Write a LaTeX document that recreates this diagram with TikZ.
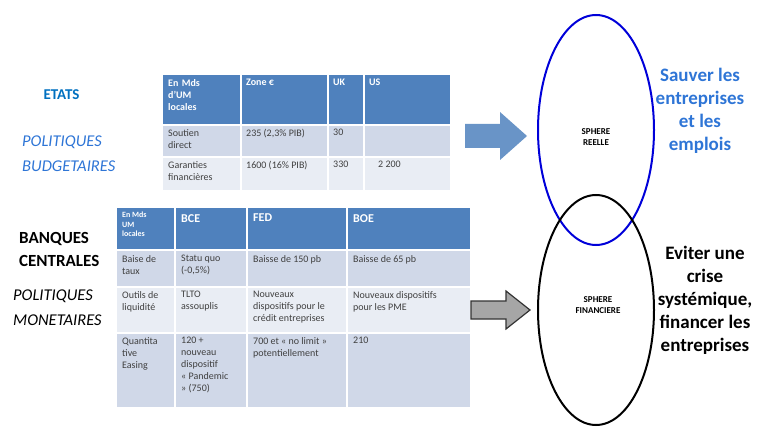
\documentclass[tikz,border=0pt]{standalone}
\usepackage{fontspec}
\setmainfont{Carlito}
\usetikzlibrary{shapes.geometric}
\definecolor{hdr}{HTML}{4F81BD}
\definecolor{rA}{HTML}{D0D8E8}
\definecolor{rB}{HTML}{E9EDF4}
\definecolor{bleu}{HTML}{0070C0}
\definecolor{lbleu}{HTML}{2E75D6}
\begin{document}
\begin{tikzpicture}[x=1pt,y=-1pt,
 cell/.style={anchor=north west,inner sep=0pt,align=left,font=\fontsize{10}{12}\selectfont,text=black!75},
 hcell/.style={cell,text=white,font=\fontsize{10}{12}\selectfont\bfseries},
 grid/.style={draw=white,line width=1.5pt},
 big/.style={align=center,font=\fontsize{19}{23}\selectfont\bfseries}]
\useasboundingbox (0,0) rectangle (760,430);
% table 1
\fill[hdr] (163,75) rectangle (450,125);
\fill[rA] (163,125) rectangle (450,157);
\fill[rB] (163,157) rectangle (450,190);
\foreach \x in {241,328,364} \draw[grid] (\x,75) -- (\x,190);
\foreach \y in {125,157} \draw[grid] (163,\y) -- (450,\y);
\node[hcell,text width=70] (t11) at (168,79) {En Mds\\d'UM\\locales};
\node[hcell] (t12) at (246,79) {Zone €};
\node[hcell] (t13) at (333,79) {UK};
\node[hcell] (t14) at (369,79) {US};
\node[cell] (t21) at (168,129) {Soutien\\direct};
\node[cell] (t22) at (246,129) {235 (2,3\% PIB)};
\node[cell] (t23) at (333,129) {30};
\node[cell] (t31) at (168,161) {Garanties\\financières};
\node[cell] (t32) at (246,161) {1600 (16\% PIB)};
\node[cell] (t33) at (333,161) {330};
\node[cell] (t34) at (378,161) {2 200};
% table 2
\fill[hdr] (117,208) rectangle (470,250);
\fill[rA] (117,250) rectangle (470,287);
\fill[rB] (117,287) rectangle (470,333);
\fill[rA] (117,333) rectangle (470,407);
\foreach \x in {175,247,347} \draw[grid] (\x,208) -- (\x,407);
\foreach \y in {250,287,333} \draw[grid] (117,\y) -- (470,\y);
\node[hcell,font=\fontsize{8}{9.5}\selectfont\bfseries] (u11) at (122,212) {En Mds\\UM\\locales};
\node[hcell,font=\fontsize{12}{14}\selectfont\bfseries] (u12) at (181,214) {BCE};
\node[hcell,font=\fontsize{12}{14}\selectfont\bfseries] (u13) at (253,214) {FED};
\node[hcell,font=\fontsize{12}{14}\selectfont\bfseries] (u14) at (353,214) {BOE};
\node[cell] (u21) at (122,255) {Baise de\\taux};
\node[cell] (u22) at (181,255) {Statu quo\\(-0,5\%)};
\node[cell] (u23) at (253,255) {Baisse de 150 pb};
\node[cell] (u24) at (353,255) {Baisse de 65 pb};
\node[cell] (u31) at (122,291) {Outils de\\liquidité};
\node[cell] (u32) at (181,291) {TLTO\\assouplis};
\node[cell] (u33) at (253,291) {Nouveaux\\dispositifs pour le\\crédit entreprises};
\node[cell] (u34) at (353,291) {Nouveaux dispositifs\\pour les PME};
\node[cell] (u41) at (122,337) {Quantita\\tive\\Easing};
\node[cell] (u42) at (181,337) {120 +\\nouveau\\dispositif\\« Pandemic\\» (750)};
\node[cell] (u43) at (253,337) {700 et « no limit »\\potentiellement};
\node[cell] (u44) at (353,337) {210};
% left labels
\node[anchor=west,text=bleu,font=\fontsize{15}{17}\selectfont\bfseries] (etats) at (40,95) {ETATS};
\node[anchor=north west,align=left,text=lbleu,font=\fontsize{16.5}{25}\selectfont\itshape,inner sep=0pt] (pb) at (22,136) {POLITIQUES\\BUDGETAIRES};
\node[anchor=north west,align=left,font=\fontsize{17}{23}\selectfont\bfseries,inner sep=0pt] (bc) at (19,232) {BANQUES\\CENTRALES};
\node[anchor=north west,align=left,font=\fontsize{16.5}{25}\selectfont\itshape,inner sep=0pt] (pm) at (13,290) {POLITIQUES\\MONETAIRES};
% ellipses
\node[draw=blue!85!black,line width=2pt,ellipse,minimum width=116,minimum height=230,inner sep=0pt] (e1) at (596,130) {};
\node[draw=black,line width=2pt,ellipse,minimum width=116,minimum height=230,inner sep=0pt] (e2) at (596,310) {};
\node[font=\fontsize{9}{11}\selectfont\bfseries,align=center] (sr) at (596,137) {SPHERE\\REELLE};
\node[font=\fontsize{9}{11}\selectfont\bfseries,align=center] (sf) at (598,305) {SPHERE\\FINANCIERE};
% arrows
\fill[hdr!85] (465,124) -- (500,124) -- (500,112) -- (527,136) -- (500,160) -- (500,148) -- (465,148) -- cycle;
\filldraw[fill=gray!70,draw=black!80,line width=1.2pt] (471,301) -- (506,301) -- (506,291) -- (530,310) -- (506,329) -- (506,319) -- (471,319) -- cycle;
% right text
\node[big,text=lbleu] (sv) at (700,111) {Sauver les\\entreprises\\et les\\emplois};
\node[big] (ev) at (705,300) {Eviter une\\crise\\systémique,\\financer les\\entreprises};
\end{tikzpicture}
\end{document}
